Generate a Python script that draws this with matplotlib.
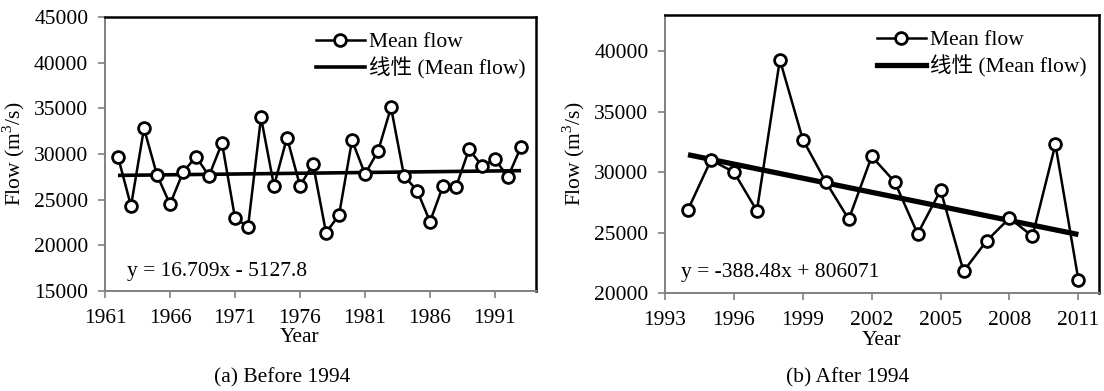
import numpy as np
import matplotlib
matplotlib.use('Agg')
import matplotlib.pyplot as plt
from matplotlib.lines import Line2D

plt.rcParams['font.family'] = ['Liberation Serif', 'Noto Sans CJK SC']
plt.rcParams['mathtext.fontset'] = 'custom'
plt.rcParams['mathtext.rm'] = 'Liberation Serif'

# (a) before 1994
years_a = list(range(1962, 1994))
flow_a = [29700, 24300, 32800, 27700, 24500, 28000, 29700, 27600, 31200, 23000,
          22000, 34000, 26500, 31800, 26500, 28900, 21400, 23300, 31500, 27800,
          30300, 35100, 27600, 26000, 22600, 26500, 26400, 30500, 28700, 29400,
          27500, 30800]
trend_a = (16.709, -5127.8)
xticks_a = [1961, 1966, 1971, 1976, 1981, 1986, 1991]
yticks_a = [15000, 20000, 25000, 30000, 35000, 40000, 45000]

# (b) after 1994
years_b = list(range(1994, 2012))
flow_b = [26900, 31000, 30000, 26800, 39300, 32700, 29200, 26100, 31300, 29200,
          24900, 28500, 21800, 24300, 26200, 24700, 32300, 21100]
trend_b = (-388.48, 806071)
xticks_b = [1993, 1996, 1999, 2002, 2005, 2008, 2011]
yticks_b = [20000, 25000, 30000, 35000, 40000]

fs = 15.5
gray = '#808080'

fig = plt.figure(figsize=(11.04, 3.91), dpi=100)


def draw(ax, years, flow, trend, xticks, yticks, xlim, ylim, eq, eq_pos, trend_lw,
         caption, cap_x, ylab_x, xlab_x, leg_x):
    x = np.array(years)
    ax.plot(x, trend[0] * x + trend[1], color='black', lw=trend_lw, solid_capstyle='butt', zorder=2)
    ax.plot(x, flow, color='black', lw=1.8, marker='o', ms=8.5, mfc='white', mec='black',
            mew=2.0, zorder=3, clip_on=False)
    ax.set_xlim(*xlim)
    ax.set_ylim(*ylim)
    ax.set_xticks(xticks)
    ax.set_yticks(yticks)
    ax.tick_params(axis='x', labelsize=fs, direction='out', length=5, color=gray, width=1.2, pad=8)
    ax.tick_params(axis='y', labelsize=fs, direction='out', length=5, color=gray, width=1.2, pad=7)
    for s in ['left', 'bottom']:
        ax.spines[s].set_color(gray)
        ax.spines[s].set_linewidth(1.4)
    for s in ['top', 'right']:
        ax.spines[s].set_color('black')
        ax.spines[s].set_linewidth(1.8)
    ax.set_xlabel('Year', fontsize=fs)
    ax.xaxis.set_label_coords(xlab_x, -0.135)
    ax.set_ylabel('Flow (m$^3$/s)', fontsize=fs)
    ax.yaxis.set_label_coords(ylab_x, 0.5)
    ax.text(eq_pos[0], eq_pos[1], eq, transform=ax.transAxes, fontsize=fs, va='center', ha='left')
    handles = [Line2D([], [], color='black', lw=1.8, marker='o', ms=8.5, mfc='white', mew=2.0),
               Line2D([], [], color='black', lw=trend_lw)]
    ax.legend(handles, ['Mean flow', '线性 (Mean flow)'], loc='upper right',
              bbox_to_anchor=(leg_x, 1.0), frameon=False, fontsize=fs,
              handlelength=2.3, handletextpad=0.2, labelspacing=0.22, borderaxespad=0.3)
    fig.text(cap_x, 1 - 378 / 391, caption, fontsize=fs, ha='center', va='center')


ax1 = fig.add_axes([0.0951, 0.2558, 0.3904, 0.7008])
draw(ax1, years_a, flow_a, trend_a, xticks_a, yticks_a, (1961, 1994.15), (15000, 45000),
     'y = 16.709x - 5127.8', (0.051, 0.07), 2.6, '(a) Before 1994', 0.2554, -0.181, 0.452, 1.012)

ax2 = fig.add_axes([0.6024, 0.2506, 0.3931, 0.711])
draw(ax2, years_b, flow_b, trend_b, xticks_b, yticks_b, (1993, 2011.9), (20000, 43000),
     'y = -388.48x + 806071', (0.037, 0.075), 3.8, '(b) After 1994', 0.768, -0.18, 0.5, 1.007)

plt.savefig('out.png', dpi=100)
